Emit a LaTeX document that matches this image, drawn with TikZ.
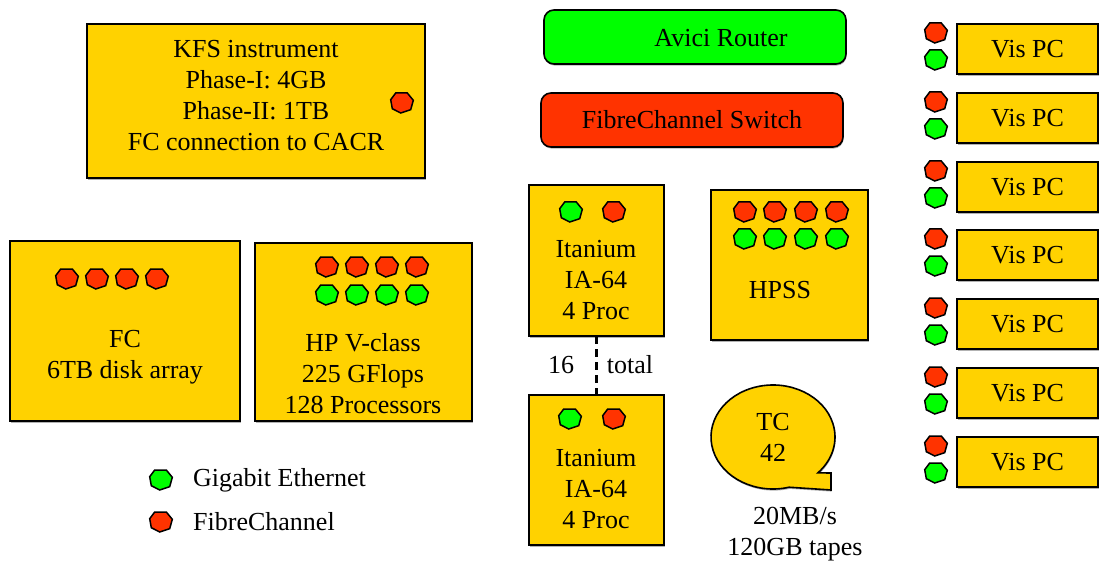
\documentclass[tikz,border=0pt]{standalone}
\usepackage{fontspec}
\setmainfont{Liberation Serif}
\usetikzlibrary{shadows}
\definecolor{boxyellow}{RGB}{255,210,0}
\definecolor{gegreen}{RGB}{0,255,0}
\definecolor{fcred}{RGB}{255,51,0}
\tikzset{
  box/.style={draw=black, line width=1.6pt, fill=boxyellow, inner sep=0pt, outer sep=0pt,
    drop shadow={shadow xshift=0.6pt, shadow yshift=-1.6pt, fill=black!30, opacity=1}},
  rbox/.style={box, rounded corners=10pt},
  txt/.style={align=center, inner sep=0pt, font=\fontsize{26}{31}\selectfont},
  port/.pic={\path[pic actions] (-6.3,-10) -- (5.3,-10) -- (11.3,-2.7) -- (8.7,6.7) -- (-1.3,10) -- (-9.7,5.7) -- (-11.3,-3.3) -- cycle;},
  rp/.style={draw=black, line width=1.5pt, fill=fcred},
  gp/.style={draw=black, line width=1.5pt, fill=gegreen},
  link/.style={draw=black, line width=3pt, dash pattern=on 8pt off 5pt},
}
\begin{document}
\begin{tikzpicture}[x=1pt,y=-1pt]
\useasboundingbox (0,0) rectangle (1099,561);
% boxes
\node[box, minimum width=338, minimum height=154] (kfs) at (256,101) {};
\node[rbox, fill=gegreen, minimum width=302, minimum height=54] (avici) at (695,37) {};
\node[rbox, fill=fcred, minimum width=302, minimum height=54] (fcs) at (692,120) {};
\node[box, minimum width=230, minimum height=180] (fc) at (125,331) {};
\node[box, minimum width=217, minimum height=178] (hpv) at (363.5,332) {};
\node[box, minimum width=135, minimum height=151] (it1) at (596.5,260.5) {};
\node[box, minimum width=135, minimum height=150] (it2) at (596.5,470) {};
\node[box, minimum width=157, minimum height=150] (hpss) at (789.5,265) {};
\foreach \t [count=\i] in {24,93,162,230,299,368,437}{
  \node[box, minimum width=141, minimum height=50] (vis\i) at (1027.5,\t+25) {};
  \node[txt] (vist\i) at (vis\i.center) {Vis PC};
  \pic[rp] at (936,\t+9) {port};
  \pic[gp] at (936,\t+36) {port};
}
% TC tape silo
\draw[black, line width=1.6pt, fill=boxyellow, drop shadow={shadow xshift=0.6pt, shadow yshift=-1.6pt, fill=black!30, opacity=1}]
  (773,437) ++(75:62 and 52) arc[start angle=75, end angle=403.6, x radius=62, y radius=52]
  -- (831,473) -- (831,490) -- cycle;
% texts
\node[txt] (kfst) at (256,96) {KFS instrument\\Phase-I: 4GB\\Phase-II: 1TB\\FC connection to CACR};
\node[txt] (avicit) at (721,38) {Avici Router};
\node[txt] (fcst) at (692,120) {FibreChannel Switch};
\node[txt] (fct) at (125,357) {FC\\6TB disk array};
\node[txt] (hpvt) at (363,374) {HP V-class\\225 GFlops\\128 Processors};
\node[txt] (it1t) at (596,280) {Itanium\\IA-64\\4 Proc};
\node[txt] (it2t) at (596,489) {Itanium\\IA-64\\4 Proc};
\node[txt] (hpsst) at (780,290) {HPSS};
\node[txt] (tct) at (773,437) {TC\\42};
\node[txt] (tapet) at (795,534) {20MB/s\\120GB tapes};
\node[txt] (n16) at (561,365) {16};
\node[txt] (ntot) at (630,365) {total};
\node[txt, anchor=west] (leg1) at (193,480) {Gigabit Ethernet};
\node[txt, anchor=west] (leg2) at (193,522) {FibreChannel};
% connector
\draw[link] (it1.south) -- (it2.north);
% ports
\pic[rp] at (402,103) {port};
\foreach \x in {67,97,127,157} \pic[rp] at (\x,279) {port};
\foreach \x in {327,357,387,417} {\pic[rp] at (\x,267) {port}; \pic[gp] at (\x,295) {port};}
\foreach \x in {745,775,806,837} {\pic[rp] at (\x,212) {port}; \pic[gp] at (\x,239) {port};}
\pic[gp] at (571,212) {port}; \pic[rp] at (614,212) {port};
\pic[gp] at (570,419) {port}; \pic[rp] at (614,419) {port};
\pic[gp] at (161,480) {port};
\pic[rp] at (161,522) {port};
\end{tikzpicture}
\end{document}
